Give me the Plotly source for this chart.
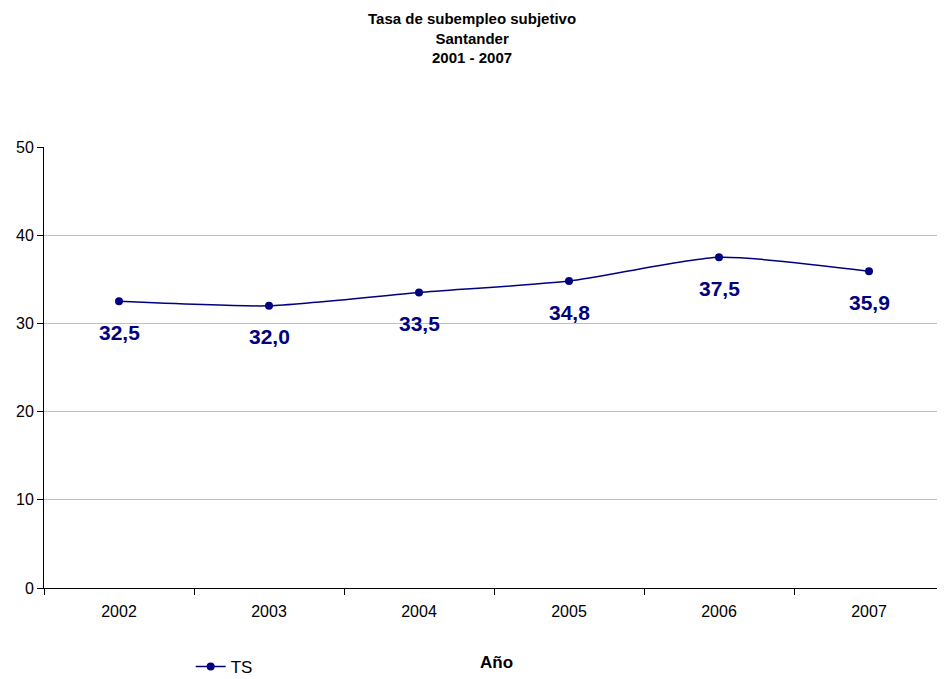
import plotly.graph_objects as go

years = ["2002", "2003", "2004", "2005", "2006", "2007"]
ts_values = [32.5, 32.0, 33.5, 34.8, 37.5, 35.9]
labels = [f"{v:.1f}".replace(".", ",") for v in ts_values]
title_lines = ["Tasa de subempleo subjetivo", "Santander", "2001 - 2007"]

NAVY = "#000080"
FONT = "Liberation Sans, Arial"
fig = go.Figure()
fig.add_trace(go.Scatter(
    x=years, y=ts_values, name="TS", mode="lines+markers",
    line=dict(color=NAVY, width=1.5, shape="spline", smoothing=0.6),
    marker=dict(color=NAVY, size=8),
))
for i, (v, lab) in enumerate(zip(ts_values, labels)):
    fig.add_annotation(x=i, y=v, xref="x", yref="y", text=f"<b>{lab}</b>", showarrow=False,
                       yshift=-31, font=dict(family=FONT, size=21, color=NAVY))

fig.add_annotation(x=0.4756, y=1.247, xref="paper", yref="paper",
                   text="<b>" + "<br>".join(title_lines) + "</b>",
                   showarrow=False, xanchor="center", yanchor="middle",
                   font=dict(family=FONT, size=15, color="black"))

fig.add_annotation(x=0.503, y=-0.170, xref="paper", yref="paper", text="<b>Año</b>",
                   showarrow=False, font=dict(family=FONT, size=17, color="black"),
                   xanchor="center", yanchor="middle")

fig.update_layout(
    width=937, height=671,
    margin=dict(l=36, r=1, t=139, b=91, autoexpand=False),
    paper_bgcolor="white", plot_bgcolor="white",
    font=dict(family=FONT, size=16, color="black"),
    showlegend=True,
    legend=dict(orientation="h", x=0.163, y=-0.179, xanchor="left", yanchor="middle",
                font=dict(size=17), bgcolor="rgba(0,0,0,0)"),
    xaxis=dict(
        type="category", tickson="boundaries", ticks="outside", ticklen=6,
        tickcolor="black", showline=True, linecolor="black", linewidth=1,
        showgrid=False, range=[-0.5, 5.5], tickfont=dict(size=16),
        ticklabelstandoff=9, automargin=False,
    ),
    yaxis=dict(
        range=[0, 50], dtick=10, ticks="outside", ticklen=6, tickcolor="black",
        showline=True, linecolor="black", linewidth=1,
        showgrid=True, gridcolor="#c0c0c0", gridwidth=1, zeroline=False,
        tickfont=dict(size=16), automargin=False,
    ),
)
fig.add_shape(type="line", xref="paper", yref="paper", x0=1, x1=1, y0=0, y1=1,
              line=dict(color="#c0c0c0", width=1))

fig.write_html("out.html")
